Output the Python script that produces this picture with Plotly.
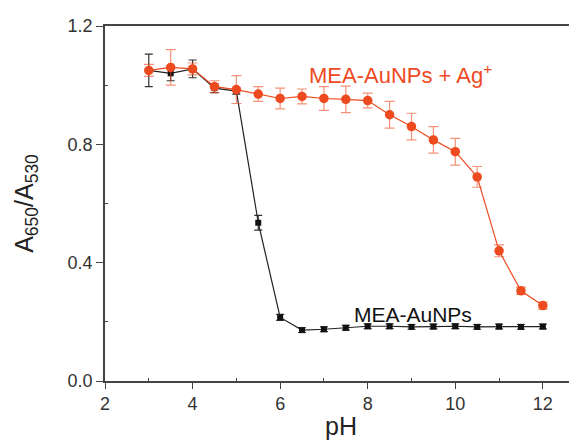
import plotly.graph_objects as go

ph = [3, 3.5, 4, 4.5, 5, 5.5, 6, 6.5, 7, 7.5, 8, 8.5, 9, 9.5, 10, 10.5, 11, 11.5, 12]

aunp = [1.05, 1.04, 1.055, 0.99, 0.98, 0.535, 0.215, 0.172, 0.175, 0.18, 0.185, 0.185, 0.183, 0.184, 0.185, 0.183, 0.184, 0.183, 0.184]
aunp_err = [0.055, 0.025, 0.03, 0.015, 0.01, 0.025, 0.01, 0.008, 0.008, 0.008, 0.008, 0.008, 0.008, 0.008, 0.008, 0.008, 0.008, 0.008, 0.008]

ag = [1.05, 1.06, 1.055, 0.995, 0.985, 0.97, 0.955, 0.962, 0.955, 0.952, 0.948, 0.90, 0.86, 0.815, 0.775, 0.69, 0.44, 0.305, 0.255]
ag_err = [0.02, 0.06, 0.02, 0.02, 0.047, 0.025, 0.035, 0.025, 0.04, 0.045, 0.025, 0.045, 0.045, 0.045, 0.045, 0.035, 0.02, 0.012, 0.012]

RED = "#EE4A1F"
AXIS = "#444444"

fig = go.Figure()
fig.add_trace(go.Scatter(
    x=ph, y=aunp, mode="lines+markers",
    line=dict(color="#222222", width=1.2),
    marker=dict(symbol="square", size=6, color="#111111"),
    error_y=dict(type="data", array=aunp_err, color="#333333", thickness=1.2, width=4),
    showlegend=False))
fig.add_trace(go.Scatter(
    x=ph, y=ag, mode="lines+markers",
    line=dict(color=RED, width=1.2),
    marker=dict(symbol="circle", size=9.5, color=RED),
    error_y=dict(type="data", array=ag_err, color="rgba(238,74,31,0.6)", thickness=1.2, width=5),
    showlegend=False))

fig.add_annotation(x=8.76, y=1.039, xref="x", yref="y", showarrow=False,
                   text="MEA-AuNPs + Ag<sup>+</sup>", font=dict(family="Liberation Sans, Arial", size=22, color=RED),
                   xanchor="center", yanchor="middle")
fig.add_annotation(x=9.03, y=0.225, xref="x", yref="y", showarrow=False,
                   text="MEA-AuNPs", font=dict(family="Liberation Sans, Arial", size=21, color="#111111"),
                   xanchor="center", yanchor="middle")

# page body has an 8px margin; plot area compensates so it lands where the reference has it
fig.update_layout(
    width=577, height=440,
    margin=dict(l=97, r=8, t=16, b=67),
    paper_bgcolor="white", plot_bgcolor="white",
    font=dict(family="Liberation Sans, Arial", size=18, color="#333333"),
)
fig.update_xaxes(
    range=[2, 12.78], tickvals=[2, 4, 6, 8, 10, 12],
    showline=True, linecolor=AXIS, linewidth=1.5, mirror=True,
    ticks="outside", ticklen=6, tickcolor=AXIS,
    minor=dict(tickvals=[3, 5, 7, 9, 11], ticks="inside", ticklen=3, tickcolor=AXIS),
    showgrid=False, zeroline=False,
    title=dict(text="pH", font=dict(size=25, color="#222222"), standoff=4),
    tickfont=dict(size=18, color="#333333"))
fig.update_yaxes(
    range=[0, 1.2], tickvals=[0, 0.4, 0.8, 1.2], ticktext=["0.0", "0.4", "0.8", "1.2"],
    showline=True, linecolor=AXIS, linewidth=1.5, mirror=False,
    ticks="outside", ticklen=7, tickcolor=AXIS,
    minor=dict(tickvals=[0.2, 0.6, 1.0], ticks="inside", ticklen=3, tickcolor=AXIS),
    showgrid=False, zeroline=False,
    title=dict(text="A<sub>650</sub>/A<sub>530</sub>", font=dict(size=25, color="#222222"), standoff=27),
    tickfont=dict(size=18, color="#333333"))

fig.write_html("out.html")
